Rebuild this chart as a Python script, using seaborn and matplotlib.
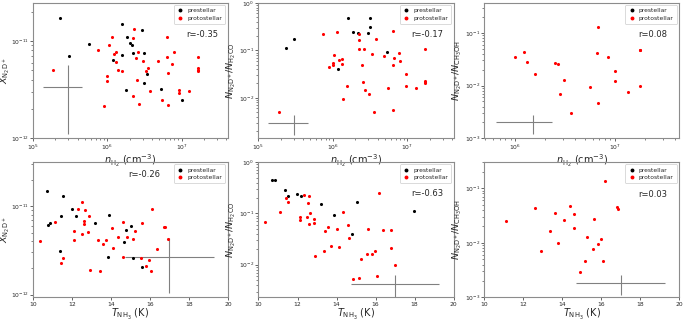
import matplotlib
matplotlib.use('Agg')
import matplotlib.pyplot as plt
from matplotlib.lines import Line2D
import seaborn as sns

# ---- top row: n_H2 on the x axis ----
# panel a: X(N2D+) vs n_H2
nh2_pre_a = [2.35e5, 3.04e5, 5.65e5, 1.60e6, 2.96e6, 1.85e6, 2.0e6, 2.15e6, 2.24e6,
             3.12e6, 1.19e6, 1.57e6, 3.43e6, 3.16e6, 1.81e6, 5.28e6, 1.0e7]
xn2dp_pre_a = [1.73e-11, 6.96e-12, 9.2e-12, 1.48e-11, 1.31e-11, 1.10e-11, 9.5e-12, 9.1e-12, 7.6e-12,
               7.6e-12, 6.4e-12, 7.2e-12, 4.63e-12, 3.74e-12, 3.12e-12, 3.2e-12, 2.47e-12]
nh2_pro_a = [1.89e5, 7.45e5, 1.05e6, 1.15e6, 1.22e6, 1.30e6, 1.31e6, 1.38e6, 1.57e6, 9.8e5,
             9.95e5, 9.2e5, 2.27e6, 2.24e6, 2.59e6, 2.44e6, 2.49e6, 2.20e6, 2.70e6, 3.00e6,
             3.32e6, 3.50e6, 3.80e6, 4.81e6, 5.39e6, 6.29e6, 6.29e6, 6.49e6, 6.62e6, 7.50e6,
             7.98e6, 9.31e6, 9.31e6, 1.25e7, 1.66e7, 1.66e7, 1.66e7, 1.66e7]
xn2dp_pro_a = [5.08e-12, 8.02e-12, 9.03e-12, 1.11e-11, 7.42e-12, 7.71e-12, 6.05e-12, 5.05e-12, 4.89e-12, 4.38e-12,
               3.89e-12, 2.16e-12, 1.32e-11, 1.06e-11, 7.78e-12, 6.75e-12, 3.99e-12, 2.71e-12, 2.26e-12, 6.19e-12,
               4.93e-12, 5.29e-12, 3.08e-12, 6.24e-12, 2.47e-12, 1.11e-11, 6.81e-12, 2.21e-12, 4.74e-12, 5.82e-12,
               7.78e-12, 3.15e-12, 2.94e-12, 3.05e-12, 6.92e-12, 5.29e-12, 5.08e-12, 4.89e-12]

# panel b: N(N2D+)/N(H2CO) vs n_H2
nh2_pre_b = [2.33e5, 3.03e5, 1.59e6, 1.84e6, 2.15e6, 3.17e6, 3.20e6, 3.01e6, 5.39e6, 1.17e6]
h2co_pre_b = [0.114, 0.176, 0.485, 0.246, 0.227, 0.485, 0.304, 0.231, 0.094, 0.041]
nh2_pro_b = [1.87e5, 7.35e5, 1.14e6, 2.22e6, 2.24e6, 2.27e6, 2.63e6, 3.83e6, 3.31e6, 1.04e6,
             1.21e6, 1.31e6, 9.95e5, 9.95e5, 9.0e5, 1.31e6, 2.47e6, 2.52e6, 1.57e6, 2.74e6,
             3.04e6, 1.38e6, 3.56e6, 4.87e6, 6.52e6, 6.73e6, 6.38e6, 5.46e6, 6.52e6, 7.71e6,
             8.12e6, 9.49e6, 9.49e6, 1.30e7, 1.72e7, 1.72e7, 1.72e7, 1.72e7]
h2co_pro_b = [5.0e-3, 0.224, 0.243, 0.217, 0.168, 0.105, 0.108, 0.176, 0.085, 0.079,
              0.064, 0.065, 0.055, 0.048, 0.045, 0.051, 0.048, 0.022, 0.0179, 0.0143,
              0.0123, 0.0092, 4.9e-3, 0.075, 0.259, 0.068, 0.048, 0.0157, 5.6e-3, 0.086,
              0.061, 0.032, 0.0176, 0.0157, 0.108, 0.0231, 0.0213, 0.020]

# panel c: N(N2D+)/N(CH3OH) vs n_H2
nh2_pro_c = [1.0e6, 1.22e6, 1.32e6, 1.59e6, 2.52e6, 2.70e6, 3.10e6, 2.80e6, 3.62e6, 5.64e6,
             6.58e6, 6.84e6, 6.84e6, 8.57e6, 1.0e7, 1.0e7, 1.36e7, 1.80e7, 1.80e7, 1.80e7]
ch3oh_pro_c = [0.0352, 0.0438, 0.0275, 0.0166, 0.0268, 0.0253, 0.0130, 6.96e-3, 2.96e-3, 9.57e-3,
               0.0413, 0.130, 4.64e-3, 0.0347, 0.0186, 0.0121, 7.6e-3, 0.0478, 0.0464, 9.86e-3]

# ---- bottom row: T_NH3 on the x axis ----
# panel d: X(N2D+) vs T
tnh3_pre_d = [10.72, 11.55, 10.79, 10.88, 11.46, 12.01, 12.22, 13.18, 13.92, 14.66,
              14.77, 15.04, 15.13, 13.87, 11.41, 15.59]
xn2dp_pre_d = [1.47e-11, 1.31e-11, 6.07e-12, 6.39e-12, 7.78e-12, 9.41e-12, 7.72e-12, 6.39e-12, 8.05e-12, 3.94e-12,
               5.42e-12, 5.91e-12, 2.61e-12, 2.70e-12, 3.15e-12, 2.08e-12]
tnh3_pro_d = [10.38, 11.14, 11.43, 11.53, 12.12, 12.13, 12.34, 12.53, 12.68, 12.60,
              12.62, 12.51, 12.86, 12.84, 12.93, 13.43, 13.36, 13.60, 13.75, 14.06,
              14.13, 14.37, 14.60, 14.60, 14.85, 15.16, 15.23, 15.58, 15.53, 15.78,
              15.96, 16.06, 16.13, 16.35, 16.75, 16.78, 16.94]
xn2dp_pro_d = [4.01e-12, 6.55e-12, 2.29e-12, 2.58e-12, 5.28e-12, 4.15e-12, 9.33e-12, 1.11e-11, 9.02e-12, 6.78e-12,
               6.22e-12, 4.89e-12, 7.65e-12, 5.11e-12, 1.89e-12, 1.83e-12, 4.15e-12, 3.71e-12, 4.11e-12, 5.71e-12,
               3.37e-12, 4.45e-12, 6.61e-12, 2.67e-12, 4.45e-12, 4.30e-12, 5.24e-12, 6.50e-12, 2.58e-12, 2.10e-12,
               2.47e-12, 1.87e-12, 9.41e-12, 3.32e-12, 5.86e-12, 5.80e-12, 4.30e-12]

# panel e: N(N2D+)/N(H2CO) vs T
tnh3_pre_e = [10.68, 10.84, 11.38, 11.50, 11.99, 12.20, 13.18, 13.88, 15.07, 14.81, 17.95]
h2co_pre_e = [0.455, 0.455, 0.283, 0.216, 0.237, 0.216, 0.156, 0.093, 0.168, 0.040, 0.114]
tnh3_pro_e = [10.33, 11.10, 11.42, 11.50, 12.12, 12.12, 12.33, 12.57, 12.52, 12.66,
              12.50, 12.59, 12.85, 12.83, 12.90, 13.34, 13.43, 13.58, 13.74, 14.04,
              14.13, 14.35, 14.60, 14.62, 14.86, 15.17, 15.26, 15.59, 15.56, 15.80,
              15.96, 16.08, 16.17, 16.38, 16.80, 16.78, 16.98]
h2co_pro_e = [0.069, 0.108, 0.204, 0.168, 0.084, 0.073, 0.230, 0.216, 0.163, 0.101,
              0.085, 0.063, 0.077, 0.064, 0.0147, 0.0187, 0.0455, 0.0536, 0.0233, 0.049,
              0.0223, 0.106, 0.060, 0.0328, 5.36e-3, 5.52e-3, 0.0131, 0.0505, 0.0163, 0.0163,
              0.0184, 6.03e-3, 0.248, 0.0483, 0.0483, 0.021, 9.7e-3]

# panel f: N(N2D+)/N(CH3OH) vs T
tnh3_pro_f = [11.11, 12.60, 12.93, 13.37, 13.61, 13.77, 14.07, 14.39, 14.61, 14.63,
              14.89, 15.19, 15.28, 15.61, 15.60, 15.82, 16.0, 16.09, 16.18, 16.82, 16.86]
ch3oh_pro_f = [0.0256, 0.0441, 6.96e-3, 0.0166, 0.0353, 9.86e-3, 0.0267, 0.0472, 0.0343, 0.0183,
               2.92e-3, 4.69e-3, 0.0129, 0.0274, 7.63e-3, 9.55e-3, 0.0119, 4.56e-3, 0.134, 0.0459, 0.0422]

# correlation coefficients and typical error crosses (x, y, xerr, yerr)
r_labels = ['r=-0.35', 'r=-0.17', 'r=0.08', 'r=-0.26', 'r=-0.63', 'r=0.03']
err_x = [3.0e5, 3.0e5, 1.5e6, 17, 17, 17]
err_y = [3.4e-12, 3.0e-3, 2.0e-3, 2.7e-12, 4.3e-3, 1.85e-3]
err_dx = [1.65e5, 1.65e5, 0.85e6, 2.3, 2.25, 2.28]
err_dy = [2.3e-12, 1.35e-3, 0.77e-3, 1.65e-12, 1.9e-3, 0.73e-3]

xlab_n = r'$n_{\rm H_2}$ (cm$^{-3}$)'
xlab_t = r'$T_{\rm NH_3}$ (K)'
ylab_x = r'$X_{\rm N_2D^+}$'
ylab_h2co = r'$N_{\rm N_2D^+}/N_{\rm H_2CO}$'
ylab_ch3oh = r'$N_{\rm N_2D^+}/N_{\rm CH_3OH}$'

sns.set_style('ticks')
plt.rcParams['font.family'] = ['DejaVu Sans']

fig, axes = plt.subplots(2, 3, figsize=(6.84, 3.23), dpi=100)
fig.subplots_adjust(left=0.048, right=0.993, bottom=0.079, top=0.991, wspace=0.157, hspace=0.176)

panels = [
    (nh2_pre_a, xn2dp_pre_a, nh2_pro_a, xn2dp_pro_a, xlab_n, ylab_x, (1e5, 4.2e7), (1e-12, 2.46e-11)),
    (nh2_pre_b, h2co_pre_b, nh2_pro_b, h2co_pro_b, xlab_n, ylab_h2co, (1e5, 4.2e7), (1.4e-3, 1.0)),
    ([], [], nh2_pro_c, ch3oh_pro_c, xlab_n, ylab_ch3oh, (4.9e5, 4.4e7), (1e-3, 0.37)),
    (tnh3_pre_d, xn2dp_pre_d, tnh3_pro_d, xn2dp_pro_d, xlab_t, ylab_x, (10, 20), (0.93e-12, 3.15e-11)),
    (tnh3_pre_e, h2co_pre_e, tnh3_pro_e, h2co_pro_e, xlab_t, ylab_h2co, (10, 20), (2.3e-3, 1.0)),
    ([], [], tnh3_pro_f, ch3oh_pro_f, xlab_t, ylab_ch3oh, (10, 20), (1e-3, 0.30)),
]

# r text position in axes fraction (panel d sits higher, left of legend)
r_pos = [(0.785, 0.77), (0.785, 0.77), (0.79, 0.77), (0.49, 0.91), (0.785, 0.765), (0.79, 0.76)]

for i, ax in enumerate(axes.flat):
    xpre, ypre, xpro, ypro, xlab, ylab, xlim, ylim = panels[i]
    ax.set_facecolor('none')
    if len(xpre) > 0:
        sns.scatterplot(x=xpre, y=ypre, color='black', s=5, linewidth=0, ax=ax, zorder=3)
    sns.scatterplot(x=xpro, y=ypro, color='red', s=5, linewidth=0, ax=ax, zorder=3)
    ax.errorbar(err_x[i], err_y[i], xerr=err_dx[i], yerr=err_dy[i], color='gray', lw=0.8, capsize=0)

    if i < 3:
        ax.set_xscale('log')
    ax.set_yscale('log')
    ax.set_xlim(*xlim)
    ax.set_ylim(*ylim)
    if i >= 3:
        ax.set_xticks([10, 12, 14, 16, 18, 20])

    ax.set_xlabel(xlab, fontsize=7, labelpad=0)
    ax.set_ylabel(ylab, fontsize=6.8)
    ax.yaxis.set_label_coords(-0.105, 0.5)
    ax.tick_params(which='major', labelsize=4.3, length=2, width=0.5, pad=1)
    ax.tick_params(which='minor', length=1.2, width=0.4)
    for sp in ax.spines.values():
        sp.set_color('0.55')
        sp.set_linewidth(0.8)

    ax.text(r_pos[i][0], r_pos[i][1], r_labels[i], transform=ax.transAxes,
            fontsize=6, ha='left', va='center')

    handles = [Line2D([], [], marker='o', ls='', color='black', ms=1.8),
               Line2D([], [], marker='o', ls='', color='red', ms=1.8)]
    leg = ax.legend(handles, ['prestellar', 'protostellar'], loc='upper right',
                    fontsize=4.3, handlelength=1.2, handletextpad=0.6,
                    borderpad=0.5, labelspacing=0.4, borderaxespad=0.4, framealpha=1)
    leg.get_frame().set_linewidth(0.5)

fig.savefig('out.png', dpi=100)
